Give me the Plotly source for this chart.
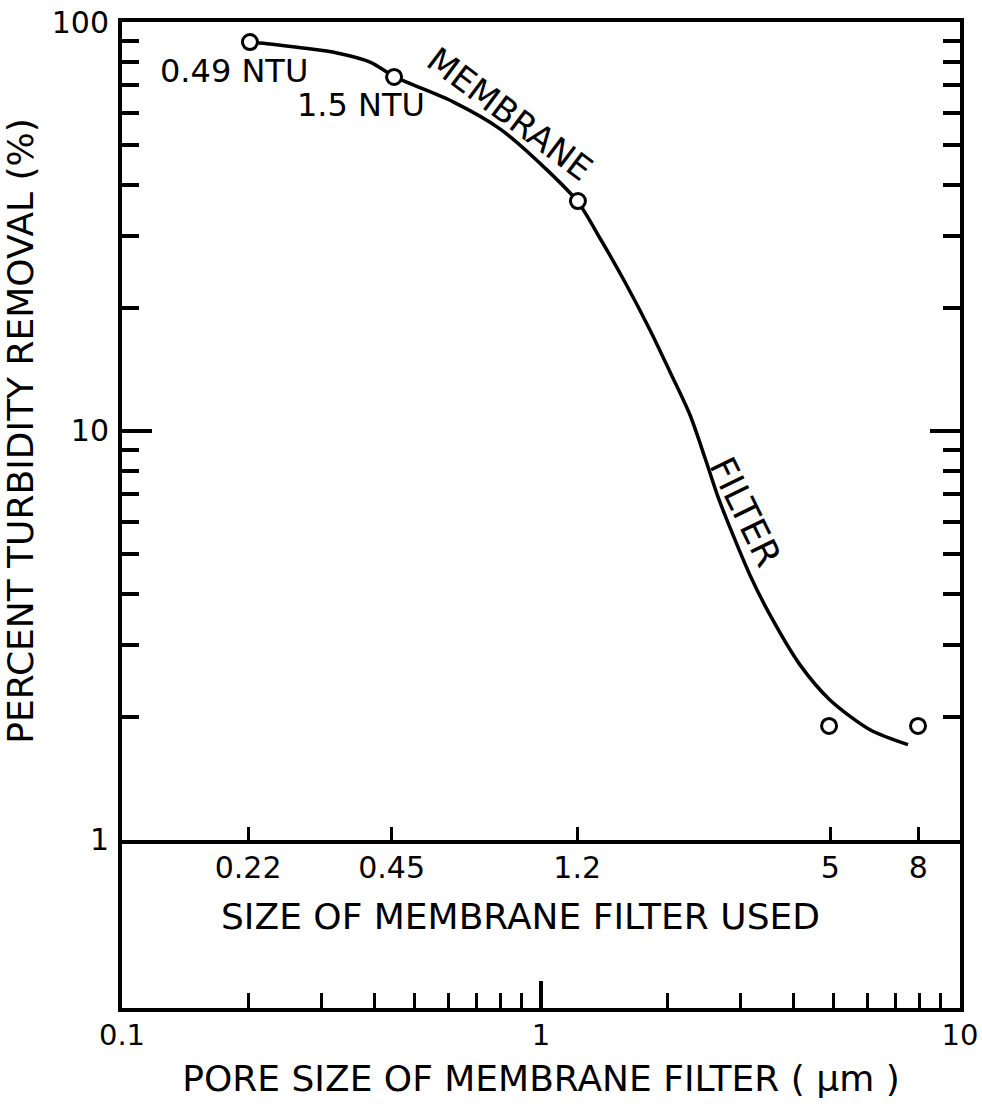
import math
import plotly.graph_objects as go

# ---------------- data ----------------
# filter sizes named on the inner scale, and where they sit on the pore-size scale
filter_labels = ["0.22", "0.45", "1.2", "5", "8"]
filter_tick_pos = [0.2, 0.44, 1.22, 4.9, 7.95]

# measured points (open circles)
point_pore = [0.202, 0.446, 1.225, 4.87, 7.94]
point_removal = [89.3, 73.4, 36.5, 1.9, 1.9]

# hand-drawn trend curve "MEMBRANE FILTER"
curve_pore = [0.202, 0.2255, 0.270, 0.326, 0.391, 0.448, 0.617, 0.798, 1.033, 1.225,
              1.383, 1.587, 1.820, 2.032, 2.268, 2.463, 2.645, 2.872, 3.154, 3.520,
              4.151, 4.894, 6.099, 7.514]
curve_removal = [89.3, 88.4, 86.4, 84.0, 79.8, 73.4, 63.8, 54.8, 43.5, 36.3,
                 29.6, 23.1, 17.66, 13.94, 10.94, 8.59, 6.90, 5.57, 4.44, 3.55,
                 2.68, 2.20, 1.86, 1.71]

# notes on the first two points
point_notes = ["0.49 NTU", "1.5 NTU"]

# curve labels (position in pore size / removal)
curve_label_text = ["MEMBRANE", "FILTER"]
curve_label_pore = [0.843, 3.07]
curve_label_removal = [59.6, 6.34]

# axis ticks
pore_major = [0.1, 1, 10]
pore_major_text = ["0.1", "1", "10"]
pore_minor = [0.2, 0.3, 0.4, 0.5, 0.6, 0.7, 0.8, 0.9, 2, 3, 4, 5, 6, 7, 8, 9]
removal_major = [1, 10, 100]
removal_major_text = ["1", "10", "100"]
removal_minor = [2, 3, 4, 5, 6, 7, 8, 9, 20, 30, 40, 50, 60, 70, 80, 90]

FONT = "DejaVu Sans"
INK = "black"

fig = go.Figure()

# trend curve
fig.add_trace(go.Scatter(
    x=curve_pore, y=curve_removal, xaxis="x2", yaxis="y", mode="lines",
    line=dict(color=INK, width=3.5, shape="spline", smoothing=0.8),
    hoverinfo="skip", showlegend=False))

# data points
fig.add_trace(go.Scatter(
    x=point_pore, y=point_removal, xaxis="x2", yaxis="y", mode="markers",
    marker=dict(symbol="circle", size=15, color="white", line=dict(color=INK, width=3)),
    showlegend=False))

# invisible trace so the lower strip axes exist
fig.add_trace(go.Scatter(x=[1], y=[0.5], xaxis="x", yaxis="y2", mode="markers",
                         marker=dict(opacity=0), hoverinfo="skip", showlegend=False))

annotations = []
# NTU notes next to the first two points
note_shift = [(-16, -29), (-33, -28)]
for i, txt in enumerate(point_notes):
    annotations.append(dict(
        x=math.log10(point_pore[i]), y=math.log10(point_removal[i]), xref="x2", yref="y",
        text=txt, showarrow=False, xshift=note_shift[i][0], yshift=note_shift[i][1],
        xanchor="center", yanchor="middle",
        font=dict(family=FONT, size=32, color=INK)))

# curve labels along the line
curve_label_angle = [37, 64]
curve_label_size = [34, 36]
for i, txt in enumerate(curve_label_text):
    annotations.append(dict(
        x=math.log10(curve_label_pore[i]), y=math.log10(curve_label_removal[i]),
        xref="x2", yref="y", text=txt, showarrow=False,
        xanchor="center", yanchor="middle",
        textangle=curve_label_angle[i], font=dict(family=FONT, size=curve_label_size[i], color=INK)))

# inner scale title
annotations.append(dict(
    x=0.476, y=0.0923, xref="paper", yref="paper", text="SIZE OF MEMBRANE FILTER USED",
    xanchor="center", yanchor="middle",
    showarrow=False, font=dict(family=FONT, size=36, color=INK)))

strip = 0.1704  # fraction of the plot height used by the lower strip

fig.update_layout(
    width=982, height=1107,
    margin=dict(l=122, r=22, t=22, b=99, autoexpand=False),
    paper_bgcolor="white", plot_bgcolor="white",
    showlegend=False,
    font=dict(family=FONT, color=INK),
    annotations=annotations,
    xaxis=dict(
        type="log", range=[-1, 1], domain=[0, 1], anchor="y2", automargin=False,
        showline=True, linewidth=4, linecolor=INK, mirror=False,
        showgrid=False, zeroline=False,
        ticks="inside", ticklen=27, tickwidth=3.5, tickcolor=INK,
        tickmode="array", tickvals=pore_major, ticktext=pore_major_text,
        tickfont=dict(family=FONT, size=29, color=INK), ticklabelstandoff=-2,
        ticklabeloverflow="allow",
        minor=dict(ticks="inside", ticklen=15, tickwidth=3, tickcolor=INK,
                   tickmode="array", tickvals=pore_minor, showgrid=False),
        title=dict(text="PORE SIZE OF MEMBRANE FILTER ( μm )",
                   font=dict(family=FONT, size=36, color=INK), standoff=16),
    ),
    xaxis2=dict(
        type="log", range=[-1, 1], matches="x", anchor="y", automargin=False,
        showline=True, linewidth=4, linecolor=INK, mirror=True,
        showgrid=False, zeroline=False,
        ticks="inside", ticklen=13, tickwidth=3, tickcolor=INK,
        tickmode="array", tickvals=filter_tick_pos, ticktext=filter_labels,
        tickfont=dict(family=FONT, size=30, color=INK), ticklabelstandoff=-2,
        ticklabeloverflow="allow",
    ),
    yaxis=dict(
        type="log", range=[0, 2], domain=[strip, 1], anchor="x2", automargin=False,
        showline=True, linewidth=4, linecolor=INK, mirror="allticks",
        showgrid=False, zeroline=False,
        ticks="inside", ticklen=30, tickwidth=3.5, tickcolor=INK,
        tickmode="array", tickvals=removal_major, ticktext=removal_major_text,
        tickfont=dict(family=FONT, size=30, color=INK), ticklabelstandoff=3,
        ticklabeloverflow="allow",
        minor=dict(ticks="inside", ticklen=17, tickwidth=3.5, tickcolor=INK,
                   tickmode="array", tickvals=removal_minor, showgrid=False),
        title=dict(text="PERCENT TURBIDITY REMOVAL (%)",
                   font=dict(family=FONT, size=36, color=INK), standoff=9),
    ),
    yaxis2=dict(
        domain=[0, strip], range=[0, 1], anchor="x", automargin=False,
        showline=True, linewidth=4, linecolor=INK, mirror=True,
        showgrid=False, zeroline=False, ticks="", showticklabels=False,
    ),
)

# remove the default page margin so the figure fills the window exactly
fig.write_html("out.html",
               config={"displayModeBar": False},
               post_script="document.body.style.margin='0';document.body.style.padding='0';")
